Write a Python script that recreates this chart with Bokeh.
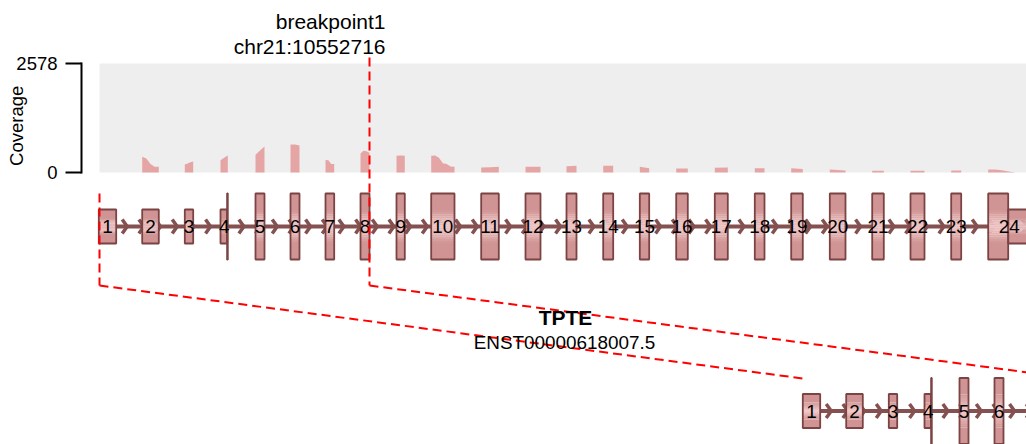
import numpy as np
from bokeh.plotting import figure
from bokeh.models import Range1d
from bokeh.core.properties import value
from bokeh.embed import file_html
from bokeh.resources import INLINE

# ---------------- data ----------------
gene_name = "TPTE"
transcript_id = "ENST00000618007.5"
breakpoint_label = ["breakpoint1", "chr21:10552716"]
coverage_max = 2578
coverage_ticks = [0, 2578]
coverage_tick_labels = ["0", "2578"]
coverage_title = "Coverage"

exon_number = [str(i) for i in range(1, 25)]
exon_start = [98.3, 141.7, 184.3, 220.0, 255.0, 290.0, 325.0, 360.0, 396.0, 430.7,
              480.7, 525.0, 566.0, 602.7, 639.3, 675.7, 714.3, 754.3, 790.7, 829.3,
              871.7, 910.0, 950.7, 987.7]
exon_end = [115.7, 158.3, 192.7, 227.3, 264.0, 299.0, 333.7, 369.0, 404.3, 454.0,
            498.3, 540.0, 576.0, 612.7, 648.7, 687.3, 727.3, 764.0, 802.3, 845.0,
            883.3, 924.0, 960.7, 1030.0]
cds_start = 226.6
cds_end = 1007.7

# coverage profile (reads) sampled evenly across each exon
coverage_profile = [
    [], [371, 330, 200, 135, 135], [190, 215, 240, 260], [290, 350, 400],
    [420, 520, 615], [660, 665, 640], [295, 290, 200, 200], [450, 515, 500, 470],
    [395, 400, 395], [395, 400, 350, 220, 200, 140, 135], [118, 125, 135], [135, 135],
    [150, 160], [158, 160], [135, 100], [95, 95], [110, 118], [100, 100], [100, 80],
    [70, 60, 45], [40, 40], [40, 40], [45, 47], [70, 70, 55, 25, 0],
]

breakpoint_x = 369.0          # end of exon 8
fused_exons = 8               # exons 1..8 kept in the fusion transcript
fusion_offset = 704.0         # horizontal shift of the fusion transcript

# ---------------- layout / style ----------------
W, H = 1026, 444
gene_y = 226.0
fusion_y = 410.5
utr_h, cds_h = 17.0, 33.0
cov_top_px, cov_bot_px = 63.0, 172.0
cov_left = 99.0
axis_x = 81.0
exon_fill = "#d09494"
exon_bright = "#f3cccc"
exon_border = "#7b4343"
strand_color = "#845050"
cov_color = "#e5a5a5"
font = value("Liberation Sans")

p = figure(width=W, height=H, output_backend="svg", toolbar_location=None,
           x_axis_type=None, y_axis_type=None,
           x_range=Range1d(0, W), y_range=Range1d(H, 0),
           min_border=0)
p.grid.visible = False
p.outline_line_color = None
p.background_fill_color = "white"

# coverage scale mapped onto the same frame
upp = coverage_max / (cov_bot_px - cov_top_px)
p.extra_y_ranges = {"cov": Range1d(-(H - cov_bot_px) * upp,
                                   coverage_max + cov_top_px * upp)}

# coverage axis (bracket)
p.segment(x0=[axis_x], x1=[axis_x], y0=[0], y1=[coverage_max], y_range_name="cov",
          line_color="black", line_width=2, line_cap="square")
p.segment(x0=[axis_x - 16] * 2, x1=[axis_x] * 2, y0=coverage_ticks, y1=coverage_ticks,
          y_range_name="cov", line_color="black", line_width=2)
p.text(x=[axis_x - 24] * 2, y=coverage_ticks, text=coverage_tick_labels,
       y_range_name="cov", text_align="right", text_baseline="middle",
       text_font=font, text_font_size="18.5px", text_color="black")
p.text(x=[15.5], y=[(cov_bot_px - 125.3) * upp], text=[coverage_title],
       y_range_name="cov", angle=np.pi / 2, text_align="center",
       text_baseline="middle", text_font=font, text_font_size="18.5px",
       text_color="black")

# coverage track
p.quad(left=cov_left, right=W + 5, bottom=0, top=coverage_max, y_range_name="cov",
       fill_color="#eeeeee", line_color=None)
cx, cy = [], []
for s, e, prof in zip(exon_start, exon_end, coverage_profile):
    if not prof:
        continue
    e2 = min(e, 1015.0)
    xs = np.linspace(s, e2, len(prof))
    cx += [s] + list(xs) + [e2]
    cy += [0] + list(prof) + [0]
p.varea(x=cx, y1=[0] * len(cx), y2=cy, y_range_name="cov", fill_color=cov_color)


def hex2rgb(h):
    return np.array([int(h[i:i + 2], 16) for i in (1, 3, 5)], float)


def rgb2hex(c):
    return "#%02x%02x%02x" % tuple(int(round(v)) for v in c)


C, B = hex2rgb(exon_fill), hex2rgb(exon_bright)


def draw_transcript(offset, yc, n_exons, x_to):
    # strand line
    p.line([exon_start[0] + offset, x_to], [yc, yc], line_color=strand_color,
           line_width=4)
    # strand arrows
    tips = np.arange(126.7 + offset, x_to + 10, 16.667)
    xs = [[t - 5.0, t, t - 5.0] for t in tips]
    ys = [[yc - 7.0, yc, yc + 7.0] for _ in tips]
    p.multi_line(xs, ys, line_color=strand_color, line_width=3.5)
    # exons
    L, R, T, Bt, F = [], [], [], [], []
    bl, br, bt, bb = [], [], [], []
    for s, e in list(zip(exon_start, exon_end))[:n_exons]:
        parts = []
        if s < cds_start:
            parts.append((s, min(e, cds_start), utr_h))
        lo, hi = max(s, cds_start), min(e, cds_end)
        if hi > lo:
            parts.append((lo, hi, cds_h))
        if e > cds_end:
            parts.append((max(s, cds_end), e, utr_h))
        for l, r, h in parts:
            l, r = l + offset, r + offset
            for a, b in ((yc - h, yc - h / 2), (yc + h / 2, yc + h)):
                L.append(l); R.append(r); T.append(a); Bt.append(b); F.append(exon_fill)
            n = 8
            for k in range(n):
                f = (k + 0.5) / n
                col = rgb2hex(C + (B - C) * f)
                a = yc - h / 2 + h / 2 * k / n
                b = yc - h / 2 + h / 2 * (k + 1) / n
                L.append(l); R.append(r); T.append(a); Bt.append(b + 0.3); F.append(col)
                a2 = yc + h / 2 - h / 2 * (k + 1) / n
                b2 = yc + h / 2 - h / 2 * k / n
                L.append(l); R.append(r); T.append(a2 - 0.3); Bt.append(b2); F.append(col)
            bl.append(l); br.append(r); bt.append(yc - h); bb.append(yc + h)
    p.quad(left=L, right=R, top=T, bottom=Bt, fill_color=F, line_color=None)
    p.quad(left=bl, right=br, top=bt, bottom=bb, fill_color=None,
           line_color=exon_border, line_width=1.8)
    # exon numbers (only those whose centre lies on the canvas)
    lab_x, lab_t = [], []
    for s, e, t in list(zip(exon_start, exon_end, exon_number))[:n_exons]:
        c = (s + e) / 2 + offset
        if c < W - 8:
            lab_x.append(c)
            lab_t.append(t)
    p.text(x=lab_x, y=[yc] * len(lab_x), text=lab_t, text_align="center",
           text_baseline="middle", text_font=font, text_font_size="18.9px",
           text_color="black")


draw_transcript(0.0, gene_y, len(exon_number), W + 5)
draw_transcript(fusion_offset, fusion_y, fused_exons, W + 5)

# breakpoint guides
red = dict(line_color="red", line_width=2, line_dash="9 5")
p.line([breakpoint_x, breakpoint_x], [57, 285], **red)
p.line([cov_left, cov_left], [193, 285], **red)
p.line([cov_left, exon_start[0] + fusion_offset], [285, 378], **red)
p.line([breakpoint_x, breakpoint_x + fusion_offset], [285, 378], **red)

# texts
p.text(x=[385, 385], y=[20.5, 46.0], text=breakpoint_label, text_align="right",
       text_baseline="middle", text_font=font, text_font_size="21px",
       text_color="black")
p.text(x=[565], y=[316.5], text=[gene_name], text_align="center",
       text_baseline="middle", text_font=font, text_font_size="21px",
       text_font_style="bold", text_color="black")
p.text(x=[564], y=[341.5], text=[transcript_id], text_align="center",
       text_baseline="middle", text_font=font, text_font_size="18.9px",
       text_color="black")

open("out.html", "w").write(file_html(p, INLINE))
